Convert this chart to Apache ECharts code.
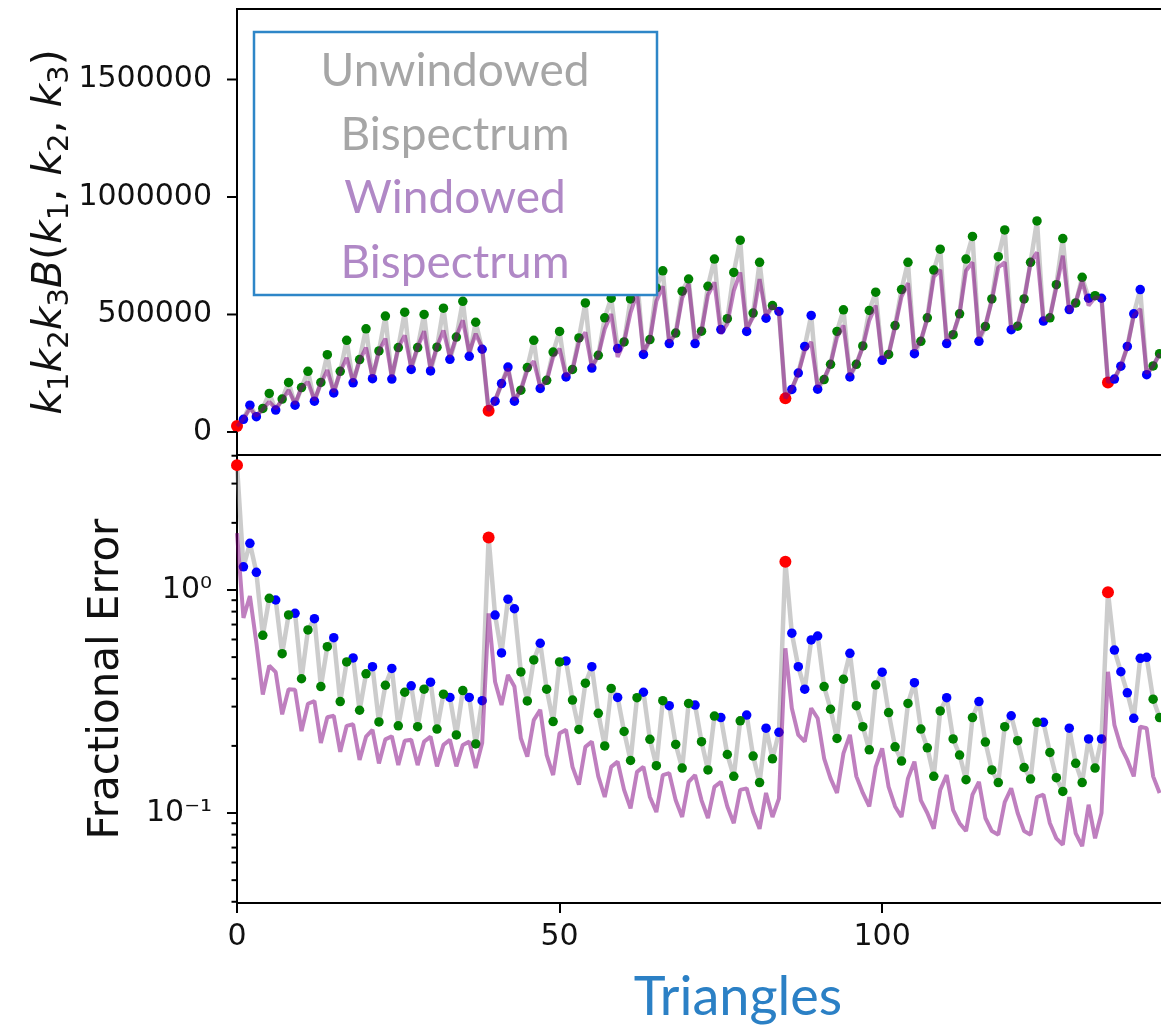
<!DOCTYPE html>
<html><head><meta charset="utf-8">
<script src="https://cdn.jsdelivr.net/npm/echarts@6/dist/echarts.min.js"></script>
<style>html,body{margin:0;padding:0;background:#fff}#c{width:1161px;height:1027px}</style>
</head><body><div id="c"></div>
<script>
// point class per triangle: r = red, b = blue, g = green
const pointTypes = ("rbbbggbggbggbggbggbggbggbggbggbggbggbgb" +
  "rbbbbgggbgggbgggbgggbgggbgggbgggbgggbgggbggbgb" +
  "rbbbbbggggbggggbggggbggggbggggbggggbggggbgggbggbgb" +
  "rbbbbbbgg").split('');

const bispUnwindowed = [25000,54000,114000,65000,100000,164000,93000,140000,211000,114000,
  189000,258000,131000,211000,329000,166000,258000,390000,209000,308000,
  439000,227000,345000,493000,225000,359000,510000,266000,359000,500000,
  260000,361000,527000,309000,404000,556000,322000,467000,352000,90000,
  131000,206000,276000,131000,178000,274000,390000,185000,220000,340000,
  428000,234000,266000,400000,549000,272000,326000,486000,569000,355000,
  383000,566000,660000,330000,393000,613000,686000,376000,421000,599000,
  651000,376000,429000,620000,736000,436000,482000,679000,816000,428000,
  506000,722000,484000,538000,513000,143000,181000,251000,364000,496000,
  182000,223000,288000,428000,520000,234000,288000,366000,517000,595000,
  305000,330000,453000,606000,722000,333000,386000,486000,689000,778000,
  376000,414000,503000,736000,832000,386000,449000,566000,746000,860000,
  435000,450000,566000,722000,898000,472000,486000,627000,823000,521000,
  549000,658000,569000,580000,569000,211000,225000,280000,364000,503000,
  606000,244000,281000,333000];

const bispWindowed = [25000,55000,100000,68000,97000,128000,100000,135000,178000,120000,
  189000,213000,135000,207000,263000,170000,256000,316000,213000,305000,
  359000,234000,345000,397000,234000,359000,411000,275000,361000,429000,
  270000,364000,432000,319000,406000,475000,340000,418000,359000,90000,
  135000,204000,270000,136000,178000,263000,301000,192000,217000,319000,
  354000,237000,263000,383000,424000,277000,326000,438000,502000,319000,
  383000,508000,590000,340000,392000,556000,620000,383000,418000,570000,
  630000,392000,429000,583000,637000,418000,460000,601000,679000,439000,
  489000,651000,495000,538000,510000,143000,185000,249000,347000,383000,
  191000,227000,290000,403000,453000,241000,288000,362000,475000,538000,
  311000,330000,447000,576000,633000,347000,390000,481000,660000,690000,
  390000,418000,503000,686000,722000,397000,453000,559000,700000,722000,
  440000,453000,559000,722000,764000,475000,489000,616000,750000,510000,
  552000,644000,538000,573000,569000,211000,228000,281000,362000,496000,
  524000,249000,281000,333000];

const fracErrUnwindowed = [3.63,1.27,1.62,1.20,0.626,0.918,0.902,0.518,0.773,0.786,
  0.400,0.662,0.744,0.369,0.557,0.611,0.316,0.476,0.496,0.289,
  0.421,0.453,0.256,0.374,0.445,0.246,0.348,0.372,0.244,0.359,
  0.386,0.238,0.341,0.330,0.224,0.354,0.330,0.204,0.319,1.72,
  0.772,0.522,0.910,0.824,0.429,0.318,0.486,0.577,0.359,0.257,
  0.476,0.481,0.321,0.237,0.382,0.453,0.280,0.200,0.362,0.330,
  0.232,0.172,0.329,0.348,0.214,0.163,0.319,0.303,0.203,0.159,
  0.310,0.305,0.209,0.156,0.272,0.268,0.183,0.146,0.259,0.275,
  0.180,0.137,0.240,0.175,0.230,1.34,0.640,0.453,0.359,0.597,
  0.622,0.369,0.292,0.216,0.398,0.520,0.303,0.244,0.192,0.375,
  0.428,0.282,0.198,0.171,0.310,0.384,0.238,0.196,0.146,0.287,
  0.329,0.215,0.182,0.141,0.268,0.316,0.208,0.156,0.137,0.244,
  0.273,0.211,0.160,0.142,0.255,0.255,0.187,0.144,0.125,0.240,
  0.167,0.137,0.215,0.159,0.215,0.976,0.538,0.430,0.346,0.266,
  0.494,0.499,0.324,0.268];

const fracErrWindowed = [1.80,0.75,0.94,0.58,0.340,0.458,0.428,0.277,0.359,0.357,
  0.233,0.309,0.318,0.206,0.269,0.273,0.188,0.246,0.250,0.173,
  0.220,0.236,0.167,0.214,0.221,0.164,0.211,0.213,0.164,0.209,
  0.220,0.162,0.202,0.213,0.162,0.202,0.209,0.159,0.206,0.786,
  0.388,0.305,0.416,0.369,0.216,0.179,0.261,0.290,0.182,0.148,
  0.228,0.236,0.161,0.134,0.198,0.209,0.146,0.118,0.161,0.170,
  0.127,0.105,0.153,0.161,0.118,0.101,0.148,0.151,0.114,0.096,
  0.138,0.148,0.114,0.095,0.131,0.138,0.107,0.090,0.127,0.129,
  0.101,0.085,0.123,0.096,0.116,0.548,0.295,0.224,0.209,0.295,
  0.266,0.176,0.143,0.123,0.185,0.224,0.146,0.123,0.107,0.161,
  0.195,0.131,0.107,0.096,0.143,0.170,0.114,0.100,0.085,0.127,
  0.148,0.103,0.090,0.083,0.121,0.138,0.095,0.083,0.080,0.112,
  0.129,0.100,0.083,0.080,0.118,0.121,0.090,0.077,0.072,0.118,
  0.081,0.071,0.109,0.077,0.100,0.430,0.248,0.198,0.173,0.146,
  0.244,0.240,0.146,0.123];

const triangles = bispUnwindowed.map((_, i) => i);
const xTicks = [0, 50, 100];
const topYTicks = [0, 500000, 1000000, 1500000];
const topYTickLabels = ['0', '500000', '1000000', '1500000'];
const logMajorTicks = [0.1, 1];
const logMajorLabels = ['10\u207B\u00B9', '10\u2070'];
const logMinorTicks = [0.04,0.05,0.06,0.07,0.08,0.09,0.2,0.3,0.4,0.5,0.6,0.7,0.8,0.9,2,3,4];

const dotColors = { r: '#ff0000', b: '#0000ff', g: '#008000' };
const dotSizes = { r: 12, b: 9.5, g: 9.5 };
const GRAY = 'rgba(128,128,128,0.4)';
const PURPLE = 'rgba(128,0,128,0.5)';
const TICKFONT = '30px "DejaVu Sans"';

function pairs(vals) { return triangles.map((x, i) => [x, vals[i]]); }
function dots(vals, t, axisIdx) {
  return {
    type: 'scatter', xAxisIndex: axisIdx, yAxisIndex: axisIdx, z: 3, silent: true,
    symbol: 'circle', symbolSize: dotSizes[t],
    itemStyle: { color: dotColors[t], opacity: 1 },
    data: triangles.filter((x, i) => pointTypes[i] === t).map(x => [x, vals[x]])
  };
}
function tickSeries(axisIdx, values, labels, len) {
  return {
    type: 'custom', xAxisIndex: axisIdx, yAxisIndex: axisIdx, clip: false, silent: true, z: 10,
    data: values.map((v, i) => [0, v, i]),
    renderItem: function (params, api) {
      const p = api.coord([api.value(0), api.value(1)]);
      const idx = api.value(2);
      const children = [{
        type: 'line',
        shape: { x1: p[0] - len, y1: p[1], x2: p[0], y2: p[1] },
        style: { stroke: '#000', lineWidth: 2 }
      }];
      if (labels) {
        children.push({
          type: 'text',
          style: { text: labels[idx], x: p[0] - 25, y: p[1], align: 'right', verticalAlign: 'middle', font: TICKFONT, fill: '#111' }
        });
      }
      return { type: 'group', children: children };
    }
  };
}

const chart = echarts.init(document.getElementById('c'), null, { renderer: 'canvas' });
const option = {
  animation: false,
  backgroundColor: '#fff',
  grid: [
    { left: 237, top: 9, width: 960, height: 446, show: true, borderColor: '#000', borderWidth: 2,
      backgroundColor: 'transparent', containLabel: false, outerBoundsMode: 'none' },
    { left: 237, top: 455, width: 960, height: 448, show: true, borderColor: '#000', borderWidth: 2,
      backgroundColor: 'transparent', containLabel: false, outerBoundsMode: 'none' }
  ],
  xAxis: [
    { gridIndex: 0, type: 'value', min: 0, max: 148.8, interval: 50,
      axisLine: { show: false }, axisTick: { show: false }, axisLabel: { show: false }, splitLine: { show: false } },
    { gridIndex: 1, type: 'value', min: 0, max: 148.8, interval: 50,
      axisLine: { show: false },
      axisTick: { show: true, length: 10, lineStyle: { color: '#000', width: 2 } },
      axisLabel: { show: true, margin: 19, color: '#111', fontSize: 30, fontFamily: 'DejaVu Sans',
        formatter: v => (xTicks.indexOf(v) >= 0 ? String(v) : '') },
      splitLine: { show: false } }
  ],
  yAxis: [
    { gridIndex: 0, type: 'value', min: -98000, max: 1800000,
      axisLine: { show: false }, axisTick: { show: false }, axisLabel: { show: false }, splitLine: { show: false } },
    { gridIndex: 1, type: 'log', logBase: 10, min: 0.0395, max: 4.03,
      axisLine: { show: false }, axisTick: { show: false }, axisLabel: { show: false }, splitLine: { show: false }, minorTick: { show: false } }
  ],
  series: [
    { type: 'line', xAxisIndex: 0, yAxisIndex: 0, z: 2, silent: true, showSymbol: false, symbol: 'none',
      lineStyle: { color: GRAY, width: 4.5 }, data: pairs(bispUnwindowed) },
    dots(bispUnwindowed, 'r', 0), dots(bispUnwindowed, 'b', 0), dots(bispUnwindowed, 'g', 0),
    { type: 'line', xAxisIndex: 0, yAxisIndex: 0, z: 4, silent: true, showSymbol: false, symbol: 'none',
      lineStyle: { color: PURPLE, width: 4 }, data: pairs(bispWindowed) },

    { type: 'line', xAxisIndex: 1, yAxisIndex: 1, z: 2, silent: true, showSymbol: false, symbol: 'none',
      lineStyle: { color: GRAY, width: 4.5 }, data: pairs(fracErrUnwindowed) },
    dots(fracErrUnwindowed, 'r', 1), dots(fracErrUnwindowed, 'b', 1), dots(fracErrUnwindowed, 'g', 1),
    { type: 'line', xAxisIndex: 1, yAxisIndex: 1, z: 4, silent: true, showSymbol: false, symbol: 'none',
      lineStyle: { color: PURPLE, width: 4 }, data: pairs(fracErrWindowed) },

    tickSeries(0, topYTicks, topYTickLabels, 10),
    tickSeries(1, logMajorTicks, logMajorLabels, 10),
    tickSeries(1, logMinorTicks, null, 5.5)
  ],
  graphic: [
    { type: 'rect', z: 100, silent: true, shape: { x: 254, y: 32, width: 403, height: 263 },
      style: { fill: '#fff', stroke: '#2e86c8', lineWidth: 2.5 } },
    { type: 'text', z: 101, silent: true, x: 455, y: 71,
      style: { text: 'Unwindowed', font: '46px Lato', fill: '#a6a6a6', align: 'center', verticalAlign: 'middle' } },
    { type: 'text', z: 101, silent: true, x: 455, y: 135,
      style: { text: 'Bispectrum', font: '46px Lato', fill: '#a6a6a6', align: 'center', verticalAlign: 'middle' } },
    { type: 'text', z: 101, silent: true, x: 455, y: 198,
      style: { text: 'Windowed', font: '46px Lato', fill: '#b088c6', align: 'center', verticalAlign: 'middle' } },
    { type: 'text', z: 101, silent: true, x: 455, y: 263,
      style: { text: 'Bispectrum', font: '46px Lato', fill: '#b088c6', align: 'center', verticalAlign: 'middle' } },
    { type: 'text', z: 101, silent: true, x: 738, y: 998,
      style: { text: 'Triangles', font: '54px Lato', fill: '#2b80c5', align: 'center', verticalAlign: 'middle' } },
    { type: 'text', z: 101, silent: true, x: 107, y: 679, rotation: Math.PI / 2,
      style: { text: 'Fractional Error', font: '42px "DejaVu Sans"', fill: '#111', align: 'center', verticalAlign: 'middle' } },
    { type: 'text', z: 101, silent: true, x: 50, y: 232, rotation: Math.PI / 2,
      style: {
        text: '{i|k}{s|1}{i|k}{s|2}{i|k}{s|3}{i|B}{n|(}{i|k}{s|1}{n|, }{i|k}{s|2}{n|, }{i|k}{s|3}{n|)}',
        align: 'center', verticalAlign: 'middle',
        rich: {
          i: { fontFamily: 'DejaVu Sans', fontStyle: 'italic', fontSize: 41, lineHeight: 50, verticalAlign: 'middle', fill: '#111' },
          n: { fontFamily: 'DejaVu Sans', fontSize: 41, lineHeight: 50, verticalAlign: 'middle', fill: '#111' },
          s: { fontFamily: 'DejaVu Sans', fontSize: 29, lineHeight: 26, verticalAlign: 'bottom', fill: '#111' }
        }
      } }
  ]
};
chart.setOption(option);
</script>
</body></html>
